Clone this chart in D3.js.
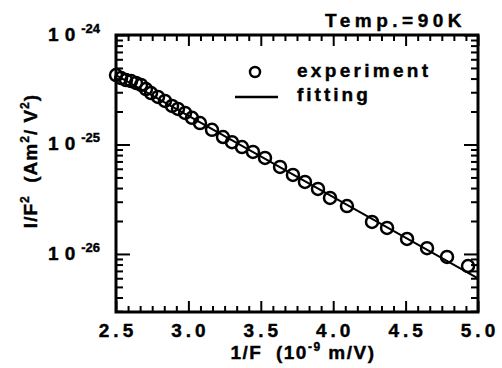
<!DOCTYPE html>
<html>
<head>
<meta charset="utf-8">
<script src="https://cdnjs.cloudflare.com/ajax/libs/d3/7.8.5/d3.min.js"></script>
<style>
  body { margin: 0; background: #fff; }
  text { font-family: "Liberation Sans", Arial, sans-serif; font-weight: bold; fill: #000; stroke: #000; stroke-width: 0.4px; }
</style>
</head>
<body>
<div id="chart"></div>
<script>
// measured points: 1/F (1e-9 m/V) and I/F^2 (Am^2/V^2)
var invF = [2.500, 2.535, 2.569, 2.604, 2.638, 2.673, 2.707, 2.742, 2.790, 2.838,
            2.887, 2.928, 2.977, 3.025, 3.080, 3.163, 3.239, 3.301, 3.370, 3.446,
            3.529, 3.633, 3.722, 3.805, 3.895, 3.978, 4.095, 4.268, 4.372, 4.510,
            4.648, 4.786, 4.931];
var iF2 = [4.31e-25, 4.04e-25, 3.88e-25, 3.80e-25, 3.65e-25, 3.50e-25, 3.21e-25, 2.95e-25, 2.72e-25, 2.50e-25,
           2.25e-25, 2.11e-25, 1.94e-25, 1.75e-25, 1.57e-25, 1.36e-25, 1.17e-25, 1.05e-25, 9.48e-26, 8.54e-26,
           7.53e-26, 6.23e-26, 5.27e-26, 4.55e-26, 3.93e-26, 3.25e-26, 2.74e-26, 1.96e-26, 1.73e-26, 1.37e-26,
           1.13e-26, 9.39e-27, 7.76e-27];

// straight fitting line (end points)
var fitX = [2.5, 5.0];
var fitY = [4.31e-25, 5.97e-27];

// tick labels
var xTickLabels = ["2.5", "3.0", "3.5", "4.0", "4.5", "5.0"];
var yTickValues = [1e-26, 1e-25, 1e-24];
var yTickExp = ["-26", "-25", "-24"];

var W = 502, H = 368;
var margin = {top: 35, right: 24, bottom: 56, left: 116},
    width = W - margin.left - margin.right,
    height = H - margin.top - margin.bottom;

var svg = d3.select("#chart").append("svg")
    .attr("width", W)
    .attr("height", H);

var g = svg.append("g")
    .attr("transform", "translate(" + margin.left + "," + margin.top + ")");

var x = d3.scaleLinear().domain([2.5, 5.0]).range([0, width]);
var y = d3.scaleLog().domain([2.95e-27, 1e-24]).range([height, 0]);

var xMajor = xTickLabels.map(Number);
var xMinor = d3.range(0, 31).map(function(i) { return 2.5 + i / 12; })
    .filter(function(v) { return xMajor.every(function(m) { return Math.abs(m - v) > 1e-6; }); });
var yMinor = y.ticks().filter(function(v) {
    return yTickValues.every(function(m) { return Math.abs(Math.log10(m) - Math.log10(v)) > 1e-6; });
});

function styleAxis(sel) {
  sel.select(".domain").remove();
  sel.selectAll("line").attr("stroke", "#000").attr("stroke-width", 2);
}

//ticks pointing inward on all four sides
g.append("g").attr("transform", "translate(0," + height + ")")
  .call(d3.axisBottom(x).tickValues(xMinor).tickSize(-6).tickFormat("")).call(styleAxis);
g.append("g").attr("transform", "translate(0," + height + ")")
  .call(d3.axisBottom(x).tickValues(xMajor).tickSize(-11).tickFormat("")).call(styleAxis);
g.append("g")
  .call(d3.axisTop(x).tickValues(xMinor).tickSize(-6).tickFormat("")).call(styleAxis);
g.append("g")
  .call(d3.axisTop(x).tickValues(xMajor).tickSize(-11).tickFormat("")).call(styleAxis);
g.append("g")
  .call(d3.axisLeft(y).tickValues(yMinor).tickSize(-7).tickFormat("")).call(styleAxis);
g.append("g")
  .call(d3.axisLeft(y).tickValues(yTickValues).tickSize(-14).tickFormat("")).call(styleAxis);
g.append("g").attr("transform", "translate(" + width + ",0)")
  .call(d3.axisRight(y).tickValues(yMinor).tickSize(-7).tickFormat("")).call(styleAxis);
g.append("g").attr("transform", "translate(" + width + ",0)")
  .call(d3.axisRight(y).tickValues(yTickValues).tickSize(-14).tickFormat("")).call(styleAxis);

//frame
g.append("rect")
  .attr("width", width).attr("height", height)
  .attr("fill", "none").attr("stroke", "#000").attr("stroke-width", 3);

//x tick labels
g.selectAll(".xlab")
  .data(xTickLabels)
  .enter().append("text")
    .attr("class", "xlab")
    .attr("x", function(d) { return x(Number(d)) + 2; })
    .attr("y", height + 25)
    .attr("text-anchor", "middle")
    .style("font-size", "19px")
    .style("letter-spacing", "4px")
    .text(function(d) { return d; });

//y tick labels: 1 0 with exponent
var ylab = g.selectAll(".ylab")
  .data(yTickValues)
  .enter().append("text")
    .attr("class", "ylab")
    .attr("x", -16)
    .attr("y", function(d) { return y(d) + 6; })
    .attr("text-anchor", "end")
    .style("font-size", "19px");
ylab.append("tspan").style("letter-spacing", "6px").text("10");
ylab.append("tspan")
    .attr("dy", -8)
    .style("font-size", "13px")
    .text(function(d, i) { return yTickExp[i]; });

//fitting line
var line = d3.line()
  .x(function(d) { return x(d[0]); })
  .y(function(d) { return y(d[1]); });
g.append("path")
  .datum(d3.zip(fitX, fitY))
  .attr("d", line)
  .attr("fill", "none")
  .attr("stroke", "#000")
  .attr("stroke-width", 2);

//experiment circles
g.selectAll(".pt")
  .data(d3.zip(invF, iF2))
  .enter().append("circle")
    .attr("class", "pt")
    .attr("cx", function(d) { return x(d[0]); })
    .attr("cy", function(d) { return y(d[1]); })
    .attr("r", 6)
    .attr("fill", "none")
    .attr("stroke", "#000")
    .attr("stroke-width", 2.5);

//legend
svg.append("circle")
  .attr("cx", 255).attr("cy", 72).attr("r", 5)
  .attr("fill", "none").attr("stroke", "#000").attr("stroke-width", 2.5);
svg.append("line")
  .attr("x1", 235).attr("x2", 278).attr("y1", 97).attr("y2", 97)
  .attr("stroke", "#000").attr("stroke-width", 2.5);
svg.append("text").attr("x", 297).attr("y", 77)
  .style("font-size", "19px").style("letter-spacing", "3.3px").text("experiment");
svg.append("text").attr("x", 297).attr("y", 101)
  .style("font-size", "19px").style("letter-spacing", "3px").text("fitting");

//title
svg.append("text").attr("x", 466).attr("y", 27)
  .attr("text-anchor", "end")
  .style("font-size", "19px").style("letter-spacing", "4.5px")
  .text("Temp.=90K");

//x axis title
var xt = svg.append("text")
  .attr("x", 303).attr("y", 359)
  .attr("text-anchor", "middle")
  .style("font-size", "19px")
  .style("letter-spacing", "1.5px");
xt.append("tspan").text("1/F\u00a0\u00a0(10");
xt.append("tspan").attr("dy", -8).style("font-size", "12px").text("-9");
xt.append("tspan").attr("dy", 8).text("\u00a0m/V)");

//y axis title
var yt = svg.append("text")
  .attr("transform", "translate(37,161) rotate(-90)")
  .attr("text-anchor", "middle")
  .style("font-size", "19px")
  .style("letter-spacing", "1px");
yt.append("tspan").text("I/F");
yt.append("tspan").attr("dy", -8).style("font-size", "12px").text("2");
yt.append("tspan").attr("dy", 8).text("\u00a0\u00a0(Am");
yt.append("tspan").attr("dy", -8).style("font-size", "12px").text("2");
yt.append("tspan").attr("dy", 8).text("/\u00a0V");
yt.append("tspan").attr("dy", -8).style("font-size", "12px").text("2");
yt.append("tspan").attr("dy", 8).text(")");
</script>
</body>
</html>
